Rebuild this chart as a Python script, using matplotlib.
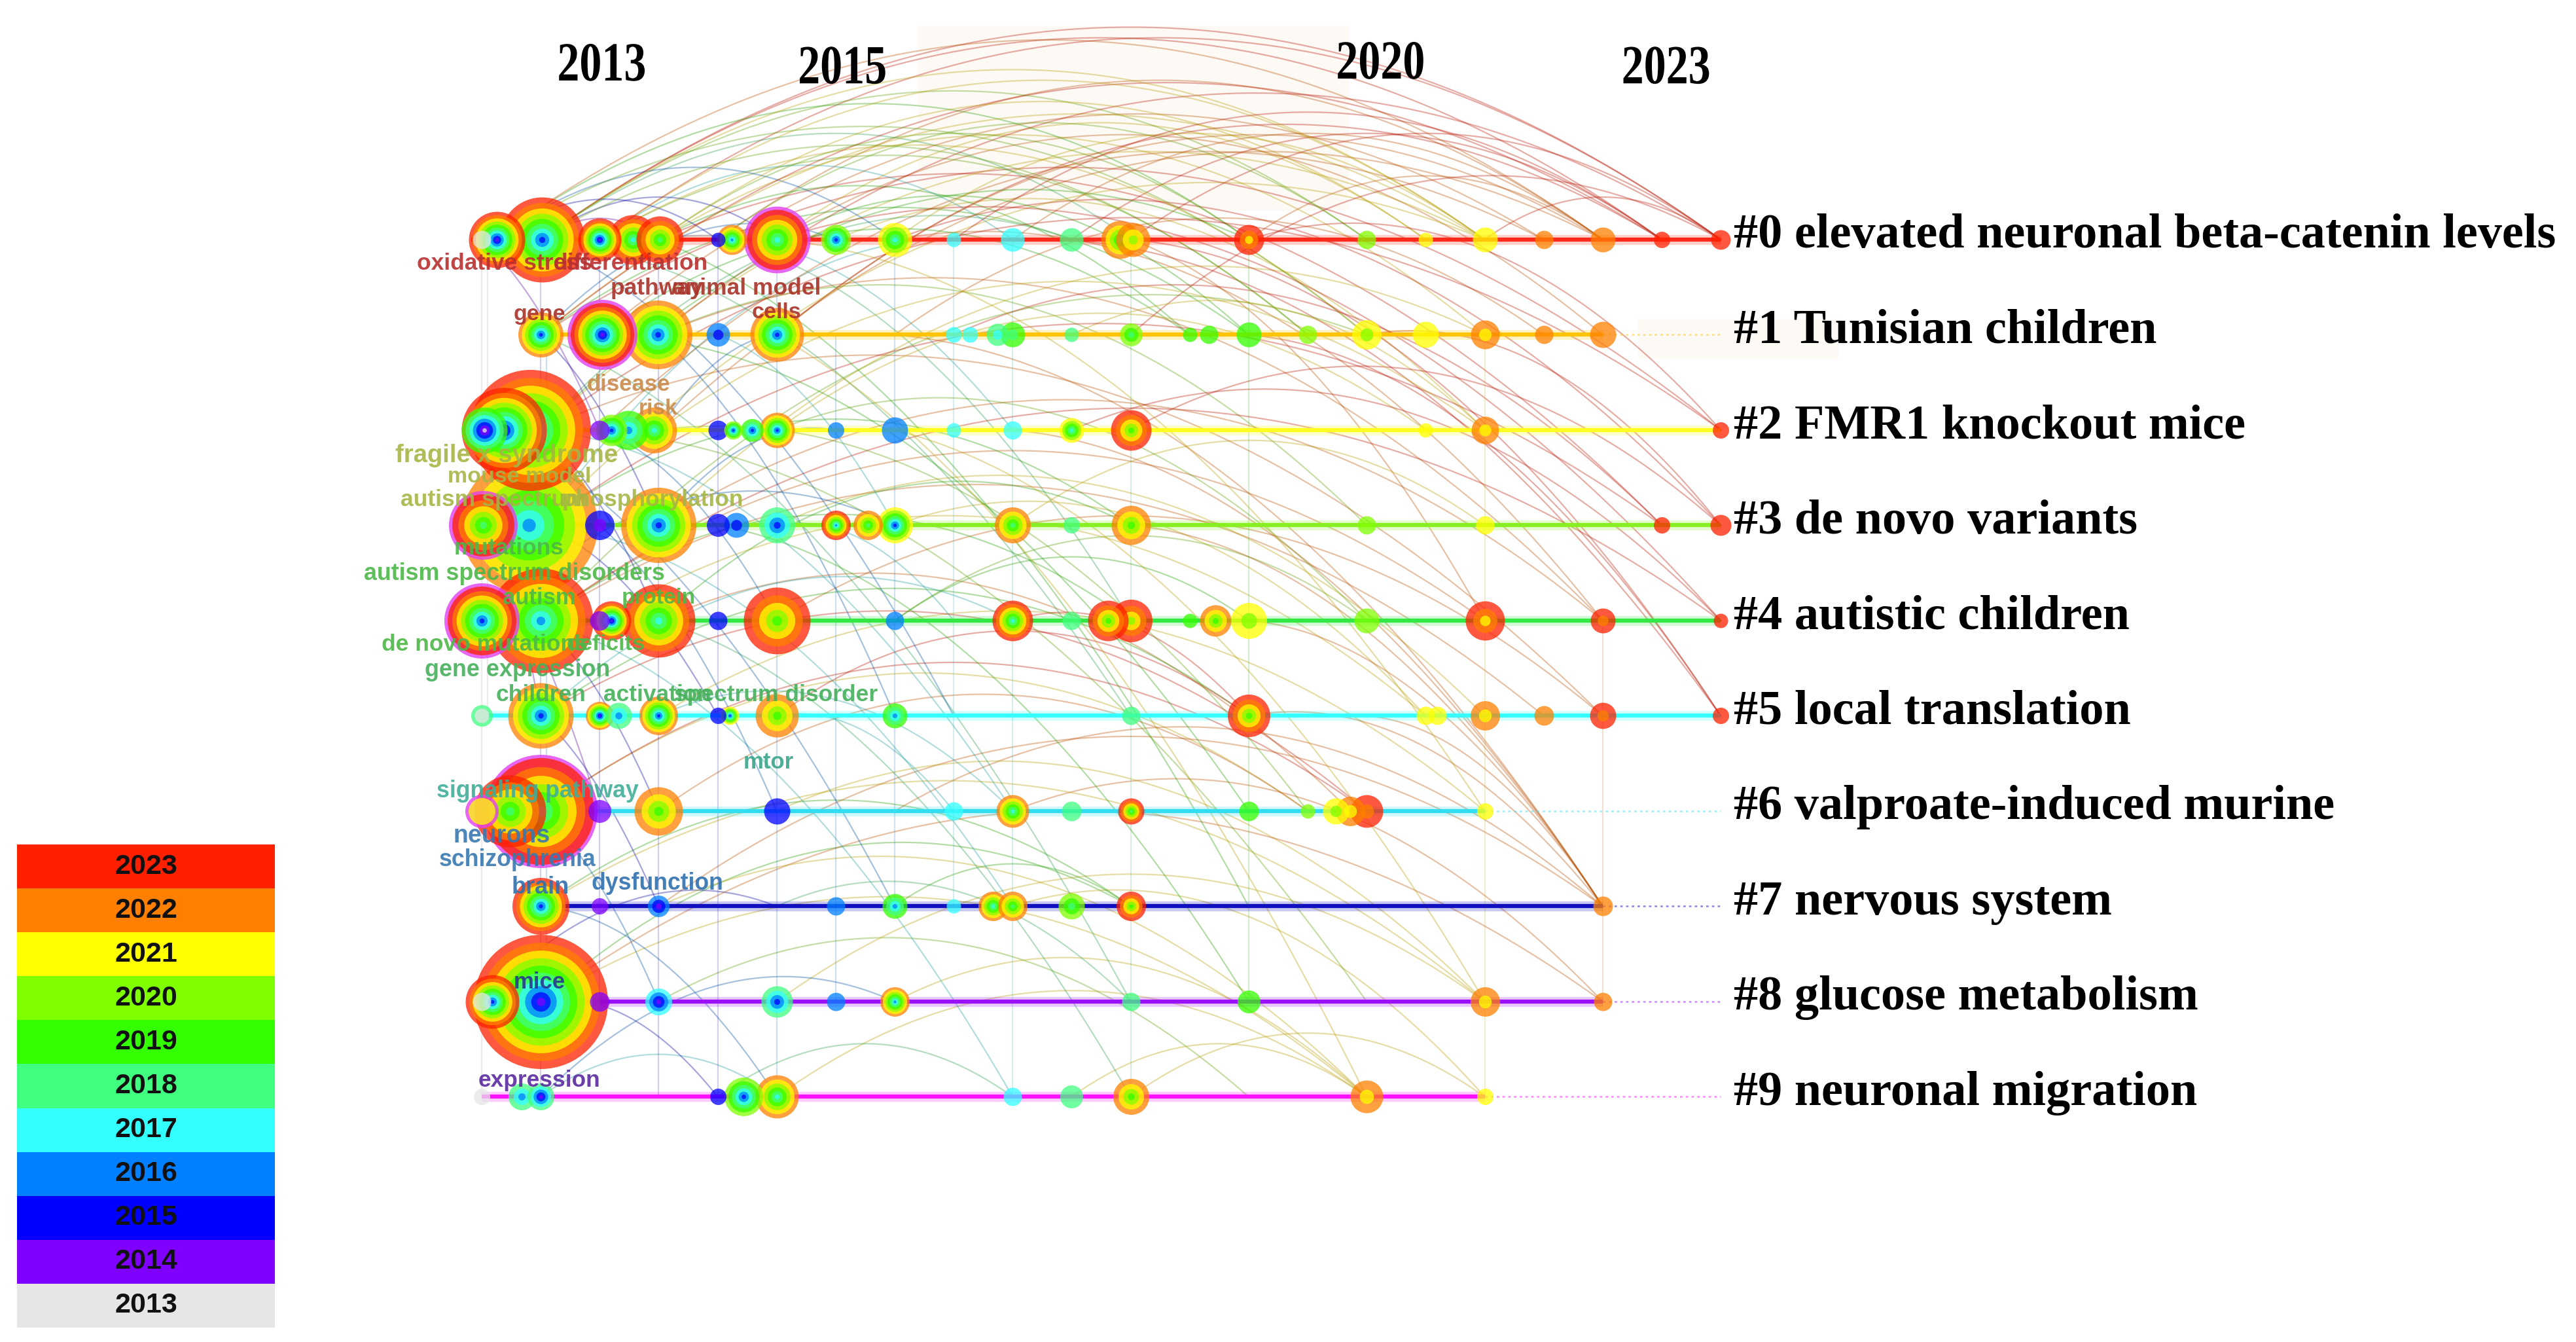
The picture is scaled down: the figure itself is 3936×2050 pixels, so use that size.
import numpy as np
import matplotlib
matplotlib.use("Agg")
import matplotlib.pyplot as plt
import matplotlib.transforms as mtransforms
from matplotlib.textpath import TextPath
from matplotlib.patches import PathPatch, Rectangle
from matplotlib.font_manager import FontProperties

# ── Year palette (CiteSpace time slices) ─────────────
YEARS = list(range(2013, 2024))
YEAR_COLORS = ["#e6e6e6", "#8000ff", "#0000ff", "#0080ff", "#33ffff", "#40ff80",
               "#33ff00", "#80ff00", "#ffff00", "#ff8000", "#ff2000"]

# ── Clusters ─────────────────────────────────────────
CLUSTER_LABELS = ["#0 elevated neuronal beta-catenin levels", "#1 Tunisian children",
                  "#2 FMR1 knockout mice", "#3 de novo variants", "#4 autistic children",
                  "#5 local translation", "#6 valproate-induced murine", "#7 nervous system",
                  "#8 glucose metabolism", "#9 neuronal migration"]
ROW_COLORS = ["#ff2a1a", "#ffc400", "#ffff22", "#88f020", "#33e844",
              "#33ffff", "#33ddf0", "#1010c0", "#9a10ff", "#ff10ff"]
ROW_START = [2012.41, 2013.0, 2012.5, 2012.5, 2012.5, 2012.55, 2012.5, 2013.0, 2012.5, 2012.5]
ROW_END = [2023.0, 2022.0, 2023.0, 2023.0, 2023.0, 2023.0, 2021.0, 2022.0, 2022.0, 2021.0]
TIMELINE_END = 2023.0

YEAR_TICKS = ["2013", "2015", "2020", "2023"]
YEAR_TICK_X = [2013.14, 2015.18, 2019.74, 2022.16]
YEAR_TICK_Y = [-1.67, -1.64, -1.69, -1.64]

# ── Nodes per cluster: (year position, diameter px, first year, last year, centrality ring)
NODES_0 = [(2012.5, 28, 2013, 2013, 0), (2012.63, 86, 2014, 2023, 0), (2013.01, 130, 2015, 2023, 0),
           (2013.5, 66, 2014, 2023, 0), (2013.78, 76, 2017, 2023, 0), (2014.01, 72, 2018, 2023, 0),
           (2014.5, 22, 2015, 2015, 0), (2014.62, 46, 2016, 2022, 0), (2015.0, 92, 2017, 2023, 1),
           (2015.5, 46, 2015, 2020, 0), (2016.0, 52, 2017, 2021, 0), (2016.5, 22, 2017, 2017, 0),
           (2017.0, 36, 2017, 2017, 0), (2017.5, 36, 2018, 2018, 0), (2017.91, 58, 2018, 2022, 0),
           (2018.02, 52, 2020, 2022, 0), (2019.0, 46, 2021, 2023, 0), (2020.0, 28, 2020, 2020, 0),
           (2020.5, 22, 2021, 2021, 0), (2021.0, 38, 2021, 2021, 0), (2021.5, 28, 2022, 2022, 0),
           (2022.0, 38, 2022, 2022, 0), (2022.5, 25, 2023, 2023, 0), (2023.0, 30, 2023, 2023, 0)]
NODES_1 = [(2013.0, 69, 2015, 2022, 0), (2013.52, 97, 2014, 2023, 1), (2013.99, 105, 2015, 2022, 0),
           (2014.5, 36, 2015, 2016, 0), (2015.0, 82, 2015, 2022, 0), (2016.5, 24, 2017, 2017, 0),
           (2016.64, 24, 2017, 2017, 0), (2016.87, 34, 2017, 2018, 0), (2017.0, 38, 2018, 2019, 0),
           (2017.5, 22, 2018, 2018, 0), (2018.0, 35, 2018, 2020, 0), (2018.5, 22, 2019, 2019, 0),
           (2018.66, 28, 2019, 2019, 0), (2019.0, 38, 2019, 2019, 0), (2019.5, 28, 2020, 2020, 0),
           (2020.0, 45, 2020, 2021, 0), (2020.5, 40, 2021, 2021, 0), (2021.0, 44, 2021, 2022, 0),
           (2021.5, 28, 2022, 2022, 0), (2022.0, 40, 2022, 2022, 0)]
NODES_2 = [(2012.91, 185, 2015, 2023, 0), (2012.69, 130, 2014, 2023, 0), (2012.52, 70, 2013, 2019, 0),
           (2013.5, 30, 2014, 2014, 0), (2013.6, 48, 2015, 2020, 0), (2013.74, 60, 2016, 2019, 0),
           (2013.96, 70, 2017, 2022, 0), (2014.5, 30, 2015, 2015, 0), (2014.63, 28, 2015, 2020, 0),
           (2014.79, 35, 2015, 2019, 0), (2015.0, 54, 2015, 2022, 0), (2015.5, 25, 2016, 2016, 0),
           (2016.0, 40, 2016, 2016, 0), (2016.5, 22, 2017, 2017, 0), (2017.0, 28, 2017, 2017, 0),
           (2017.5, 38, 2017, 2021, 0), (2018.0, 62, 2019, 2023, 0), (2020.5, 22, 2021, 2021, 0),
           (2021.0, 42, 2021, 2022, 0), (2023.0, 25, 2023, 2023, 0)]
NODES_3 = [(2012.9, 210, 2016, 2022, 0), (2012.51, 95, 2018, 2023, 1), (2013.5, 45, 2014, 2015, 0),
           (2014.0, 115, 2015, 2022, 0), (2014.5, 35, 2015, 2015, 0), (2014.66, 38, 2015, 2016, 0),
           (2015.0, 55, 2015, 2018, 0), (2015.5, 45, 2016, 2023, 0), (2015.77, 45, 2018, 2022, 0),
           (2016.0, 55, 2015, 2021, 0), (2017.0, 55, 2018, 2022, 0), (2017.5, 25, 2018, 2018, 0),
           (2018.0, 60, 2019, 2022, 0), (2020.0, 28, 2020, 2020, 0), (2021.0, 28, 2021, 2021, 0),
           (2022.5, 25, 2023, 2023, 0), (2023.0, 32, 2023, 2023, 0)]
NODES_4 = [(2013.0, 160, 2016, 2023, 0), (2012.5, 105, 2015, 2023, 1), (2013.5, 30, 2014, 2014, 0),
           (2013.6, 60, 2014, 2023, 0), (2014.0, 112, 2017, 2023, 0), (2014.5, 28, 2015, 2015, 0),
           (2015.0, 102, 2019, 2023, 0), (2016.0, 28, 2016, 2016, 0), (2017.0, 62, 2017, 2023, 0),
           (2017.5, 28, 2018, 2018, 0), (2017.81, 62, 2019, 2023, 0), (2018.0, 65, 2020, 2023, 0),
           (2018.5, 22, 2019, 2019, 0), (2018.72, 48, 2019, 2022, 0), (2019.0, 55, 2020, 2021, 0),
           (2020.0, 38, 2020, 2020, 0), (2021.0, 60, 2021, 2023, 0), (2022.0, 38, 2022, 2023, 0),
           (2023.0, 22, 2023, 2023, 0)]
NODES_5 = [(2012.5, 33, 2018, 2018, 0), (2012.5, 22, 2013, 2013, 0), (2013.0, 100, 2015, 2022, 0),
           (2013.5, 43, 2014, 2022, 0), (2013.66, 40, 2016, 2018, 0), (2014.0, 59, 2015, 2022, 0),
           (2014.5, 25, 2015, 2015, 0), (2014.6, 28, 2015, 2021, 0), (2015.0, 66, 2019, 2022, 0),
           (2016.0, 38, 2016, 2019, 0), (2018.0, 28, 2018, 2018, 0), (2019.0, 65, 2019, 2023, 0),
           (2020.5, 28, 2021, 2021, 0), (2020.6, 28, 2021, 2021, 0), (2021.0, 45, 2021, 2022, 0),
           (2021.5, 30, 2022, 2022, 0), (2022.0, 40, 2022, 2023, 0), (2023.0, 25, 2023, 2023, 0)]
NODES_6 = [(2013.0, 163, 2017, 2023, 1), (2012.74, 110, 2018, 2023, 0), (2012.5, 41, 2021, 2021, 1),
           (2013.5, 35, 2014, 2014, 0), (2014.0, 74, 2019, 2022, 0), (2015.0, 40, 2015, 2015, 0),
           (2016.5, 28, 2017, 2017, 0), (2017.0, 50, 2017, 2022, 0), (2017.5, 30, 2018, 2018, 0),
           (2018.0, 40, 2018, 2023, 0), (2019.0, 30, 2019, 2019, 0), (2019.5, 22, 2020, 2020, 0),
           (2019.74, 40, 2020, 2021, 0), (2019.86, 45, 2021, 2022, 0), (2020.0, 50, 2022, 2023, 0),
           (2021.0, 25, 2021, 2021, 0)]
NODES_7 = [(2013.0, 87, 2015, 2023, 0), (2013.5, 25, 2014, 2014, 0), (2014.0, 33, 2014, 2016, 0),
           (2015.5, 28, 2016, 2016, 0), (2016.0, 38, 2016, 2019, 0), (2016.5, 22, 2017, 2017, 0),
           (2016.83, 45, 2017, 2022, 0), (2017.0, 45, 2018, 2022, 0), (2017.5, 40, 2018, 2020, 0),
           (2018.0, 45, 2019, 2023, 0), (2022.0, 30, 2022, 2022, 0)]
NODES_8 = [(2013.0, 205, 2014, 2023, 0), (2012.59, 82, 2015, 2023, 0), (2012.5, 28, 2013, 2013, 0),
           (2013.5, 30, 2014, 2014, 0), (2014.0, 41, 2014, 2017, 0), (2015.0, 48, 2015, 2018, 0),
           (2015.5, 28, 2016, 2016, 0), (2016.0, 45, 2016, 2022, 0), (2018.0, 28, 2018, 2018, 0),
           (2019.0, 35, 2019, 2019, 0), (2021.0, 45, 2021, 2022, 0), (2022.0, 28, 2022, 2022, 0)]
NODES_9 = [(2012.5, 25, 2013, 2013, 0), (2012.84, 41, 2016, 2018, 0), (2013.0, 41, 2014, 2018, 0),
           (2014.5, 25, 2015, 2015, 0), (2014.72, 59, 2015, 2020, 0), (2015.0, 66, 2017, 2022, 0),
           (2017.0, 28, 2017, 2017, 0), (2017.5, 35, 2018, 2018, 0), (2018.0, 55, 2019, 2022, 0),
           (2020.0, 50, 2021, 2022, 0), (2021.0, 25, 2021, 2021, 0)]
NODES = [NODES_0, NODES_1, NODES_2, NODES_3, NODES_4,
         NODES_5, NODES_6, NODES_7, NODES_8, NODES_9]

# ── Keyword labels: (text, year position, row position, alignment, font size, colour)
KEYWORDS = [
    ("oxidative stress", 2011.95, 0.25, "left", 25.5, "#b83030"),
    ("differentiation", 2013.11, 0.25, "left", 25.5, "#b83030"),
    ("pathway", 2013.59, 0.51, "left", 25.5, "#a83228"),
    ("animal model", 2014.12, 0.51, "left", 25.5, "#a83228"),
    ("gene", 2012.99, 0.79, "center", 24.5, "#a83228"),
    ("cells", 2015.0, 0.77, "center", 24.5, "#a83228"),
    ("disease", 2013.39, 1.52, "left", 25, "#c98a4a"),
    ("risk", 2013.83, 1.78, "left", 24, "#c98a4a"),
    ("fragile x syndrome", 2011.77, 2.27, "left", 27.5, "#a6b545"),
    ("mouse model", 2012.21, 2.49, "left", 24.5, "#a6b545"),
    ("autism spectrum", 2011.81, 2.73, "left", 25.5, "#a6b545"),
    ("phosphorylation", 2013.18, 2.73, "left", 25.5, "#a6b545"),
    ("mutations", 2012.73, 3.24, "center", 25.3, "#4cb848"),
    ("autism spectrum disorders", 2011.50, 3.51, "left", 25.8, "#4cb848"),
    ("autism", 2012.99, 3.76, "center", 25, "#4cb848"),
    ("protein", 2014.0, 3.76, "center", 24, "#4cb848"),
    ("de novo mutations", 2011.65, 4.25, "left", 25.5, "#4cb848"),
    ("deficits", 2013.22, 4.25, "left", 24.7, "#4cb848"),
    ("gene expression", 2012.02, 4.52, "left", 25.8, "#45b05a"),
    ("children", 2013.0, 4.78, "center", 25.5, "#45b05a"),
    ("activation", 2013.53, 4.78, "left", 25.5, "#45b05a"),
    ("spectrum disorder", 2014.13, 4.78, "left", 25.5, "#45b05a"),
    ("mtor", 2014.93, 5.49, "center", 25, "#3aa58a"),
    ("signaling pathway", 2012.12, 5.79, "left", 25.7, "#3fae98"),
    ("neurons", 2012.67, 6.26, "center", 27, "#3878b0"),
    ("schizophrenia", 2012.80, 6.51, "center", 25.7, "#3878b0"),
    ("brain", 2013.0, 6.80, "center", 26, "#3070b0"),
    ("dysfunction", 2013.99, 6.76, "center", 25.7, "#3070b0"),
    ("mice", 2012.99, 7.80, "center", 25, "#283890"),
    ("expression", 2012.99, 8.83, "center", 25.4, "#5a2aa0"),
]

# ── Co-occurrence links: (x1, row1, x2, row2, link year)
LINKS = [
    (2013.0, 0, 2023.0, 0, 2023), (2013.5, 0, 2023.0, 0, 2023), (2013.0, 0, 2022.5, 0, 2023),
    (2014.0, 0, 2022.5, 3, 2023), (2013.0, 1, 2023.0, 2, 2023), (2014.5, 0, 2022.0, 0, 2022),
    (2015.0, 0, 2022.0, 1, 2022), (2013.5, 1, 2021.5, 0, 2022), (2013.0, 2, 2021.0, 0, 2021),
    (2014.0, 0, 2021.0, 1, 2021), (2015.0, 0, 2020.5, 0, 2021), (2016.0, 0, 2023.0, 3, 2023),
    (2016.0, 0, 2022.0, 4, 2022), (2015.5, 0, 2021.0, 2, 2021), (2017.0, 0, 2023.0, 5, 2023),
    (2017.5, 0, 2022.5, 0, 2023), (2018.0, 0, 2023.0, 0, 2023), (2019.0, 0, 2022.0, 0, 2022),
    (2018.0, 0, 2021.0, 4, 2022), (2013.0, 0, 2020.0, 0, 2020), (2013.5, 0, 2019.5, 1, 2020),
    (2014.0, 1, 2020.0, 3, 2020), (2012.6, 0, 2019.0, 0, 2019), (2013.0, 1, 2019.0, 1, 2019),
    (2014.0, 0, 2018.5, 1, 2019), (2013.0, 0, 2018.0, 0, 2018), (2014.5, 0, 2018.0, 4, 2018),
    (2013.0, 2, 2017.5, 0, 2018), (2013.5, 0, 2017.0, 0, 2017), (2014.0, 0, 2017.0, 2, 2017),
    (2013.0, 3, 2016.5, 0, 2017), (2012.6, 0, 2016.0, 0, 2016), (2013.0, 1, 2015.5, 0, 2016),
    (2013.0, 0, 2015.0, 0, 2015), (2012.6, 0, 2014.5, 0, 2015), (2013.0, 0, 2014.0, 0, 2014),
    (2012.6, 0, 2022.0, 0, 2022), (2013.5, 0, 2020.0, 1, 2021), (2014.0, 0, 2019.0, 0, 2020),
    (2013.0, 1, 2021.0, 0, 2021), (2015.0, 1, 2022.5, 0, 2023), (2016.0, 1, 2021.5, 1, 2022),
    (2013.0, 1, 2022.5, 0, 2023), (2014.0, 1, 2023.0, 0, 2023), (2015.0, 1, 2022.0, 0, 2022),
    (2013.5, 2, 2021.5, 0, 2022), (2014.0, 2, 2022.0, 0, 2022), (2013.0, 0, 2021.0, 0, 2021),
    (2013.5, 0, 2021.0, 0, 2021), (2014.0, 0, 2020.5, 0, 2021), (2013.0, 3, 2021.0, 0, 2021),
    (2013.0, 0, 2019.5, 1, 2020), (2014.5, 0, 2020.0, 0, 2020), (2012.6, 0, 2020.0, 1, 2020),
    (2013.0, 2, 2019.0, 0, 2019), (2015.0, 0, 2019.0, 1, 2019), (2013.5, 1, 2018.5, 1, 2019),
    (2013.0, 4, 2020.0, 1, 2020), (2014.0, 3, 2021.0, 1, 2021), (2016.0, 0, 2021.0, 0, 2021),
    (2017.0, 0, 2022.0, 0, 2022), (2016.5, 0, 2022.5, 0, 2023), (2018.0, 1, 2023.0, 0, 2023),
    (2019.0, 0, 2023.0, 2, 2023), (2020.0, 1, 2023.0, 3, 2023), (2021.0, 0, 2023.0, 0, 2023),
    (2015.0, 0, 2023.0, 4, 2023), (2014.0, 1, 2022.0, 4, 2022), (2013.0, 2, 2022.0, 5, 2022),
    (2013.0, 4, 2021.5, 5, 2022), (2015.0, 3, 2021.0, 5, 2021), (2016.0, 3, 2020.5, 5, 2021),
    (2014.0, 5, 2021.0, 6, 2021), (2013.0, 5, 2020.0, 6, 2023), (2014.0, 4, 2019.86, 6, 2022),
    (2015.0, 2, 2020.5, 2, 2021), (2017.0, 3, 2021.0, 3, 2021), (2016.0, 4, 2020.0, 4, 2020),
    (2017.5, 1, 2021.0, 2, 2021), (2018.0, 2, 2023.0, 3, 2023),
    (2013.0, 2, 2023.0, 2, 2023), (2013.0, 3, 2022.5, 3, 2023), (2013.0, 4, 2023.0, 4, 2023),
    (2014.0, 3, 2022.0, 4, 2022), (2013.0, 4, 2021.0, 4, 2022), (2015.0, 4, 2022.0, 5, 2022),
    (2014.0, 2, 2021.0, 2, 2021), (2013.5, 4, 2020.5, 5, 2021), (2015.0, 2, 2020.0, 4, 2020),
    (2013.0, 5, 2019.0, 5, 2019), (2016.0, 4, 2019.0, 4, 2019), (2013.0, 6, 2019.5, 6, 2021),
    (2014.0, 6, 2019.5, 6, 2022), (2013.0, 6, 2020.0, 6, 2023), (2015.0, 5, 2019.0, 5, 2023),
    (2017.0, 4, 2019.0, 5, 2023), (2013.0, 4, 2018.0, 4, 2019), (2014.0, 4, 2018.0, 3, 2019),
    (2013.0, 3, 2018.0, 3, 2019), (2013.0, 5, 2017.0, 4, 2017), (2014.0, 5, 2017.0, 6, 2017),
    (2012.5, 4, 2016.0, 3, 2016), (2013.0, 7, 2018.0, 7, 2019), (2013.0, 8, 2018.0, 7, 2019),
    (2014.0, 8, 2019.0, 9, 2020), (2013.0, 8, 2020.0, 9, 2021), (2015.0, 9, 2020.0, 9, 2021),
    (2015.0, 8, 2021.0, 8, 2021), (2014.0, 7, 2022.0, 7, 2022), (2016.0, 6, 2022.0, 7, 2022),
    (2015.0, 6, 2021.0, 8, 2021), (2017.0, 6, 2022.0, 8, 2022), (2013.0, 9, 2016.0, 8, 2016),
    (2012.5, 8, 2015.0, 7, 2015), (2014.5, 9, 2017.0, 9, 2018), (2017.5, 9, 2020.0, 9, 2021),
    (2013.0, 7, 2021.0, 8, 2021), (2013.0, 8, 2022.0, 8, 2022), (2014.0, 7, 2020.0, 9, 2021),
    (2016.0, 8, 2020.0, 9, 2021), (2017.0, 7, 2021.0, 9, 2021), (2018.0, 9, 2021.0, 9, 2021),
    (2016.0, 7, 2018.0, 7, 2019), (2013.0, 9, 2015.0, 9, 2017), (2015.0, 7, 2018.0, 8, 2018),
    (2019.0, 5, 2022.0, 7, 2022), (2018.0, 3, 2022.0, 7, 2022), (2017.0, 2, 2022.0, 7, 2022),
    (2019.0, 4, 2022.0, 7, 2022), (2016.0, 1, 2022.0, 7, 2022), (2020.0, 5, 2022.0, 7, 2022),
    (2018.0, 0, 2023.0, 5, 2023), (2019.0, 1, 2023.0, 5, 2023), (2017.5, 2, 2023.0, 4, 2023),
    (2016.5, 1, 2022.5, 3, 2023), (2013.0, 0, 2018.0, 5, 2018), (2013.5, 1, 2019.0, 6, 2019),
    (2014.0, 2, 2019.5, 6, 2020), (2014.0, 0, 2019.0, 7, 2019), (2013.0, 2, 2020.0, 8, 2020),
    (2015.0, 1, 2020.0, 9, 2021), (2013.0, 1, 2018.0, 8, 2018), (2014.5, 3, 2019.0, 8, 2019),
    (2015.0, 0, 2021.0, 6, 2021), (2016.0, 2, 2021.0, 8, 2021), (2013.0, 3, 2017.0, 7, 2017),
    (2013.0, 4, 2017.0, 9, 2017), (2014.0, 4, 2018.0, 9, 2018), (2012.6, 2, 2016.0, 7, 2016),
    (2013.0, 0, 2016.5, 5, 2016), (2013.0, 2, 2017.0, 6, 2017), (2014.0, 1, 2016.0, 5, 2016),
    (2012.5, 0, 2013.5, 2, 2014), (2013.0, 1, 2014.0, 3, 2015), (2013.0, 2, 2014.0, 4, 2015),
    (2013.0, 3, 2014.5, 5, 2015), (2013.0, 4, 2014.0, 6, 2015), (2013.0, 5, 2014.0, 7, 2015),
    (2013.0, 6, 2014.0, 8, 2016), (2013.0, 7, 2015.0, 9, 2016), (2012.5, 2, 2013.0, 5, 2014),
    (2012.5, 3, 2013.5, 6, 2014), (2013.5, 2, 2015.0, 4, 2016), (2014.0, 2, 2015.0, 1, 2016),
    (2014.0, 3, 2015.5, 2, 2016), (2014.5, 1, 2016.0, 3, 2017), (2015.0, 3, 2016.5, 4, 2017),
    (2015.0, 5, 2016.5, 6, 2017), (2013.5, 3, 2015.0, 6, 2016), (2013.0, 8, 2014.5, 9, 2015),
    (2012.5, 0, 2012.5, 9, 2013), (2012.55, 0, 2012.55, 5, 2013), (2013.0, 0, 2013.0, 9, 2015),
    (2013.05, 1, 2013.05, 8, 2016), (2013.5, 0, 2013.5, 8, 2015), (2014.0, 0, 2014.0, 9, 2015),
    (2014.5, 0, 2014.5, 9, 2015), (2015.0, 0, 2015.0, 9, 2016), (2015.5, 1, 2015.5, 8, 2016),
    (2016.0, 0, 2016.0, 7, 2016), (2016.5, 0, 2016.5, 7, 2017), (2017.0, 0, 2017.0, 9, 2017),
    (2018.0, 0, 2018.0, 9, 2018), (2019.0, 0, 2019.0, 8, 2019), (2021.0, 1, 2021.0, 9, 2021),
    (2022.0, 4, 2022.0, 8, 2022),
]


def year_color(y):
    return YEAR_COLORS[y - YEARS[0]]


def link_color(y):
    r, g, b = matplotlib.colors.to_rgb(year_color(y))
    return (r * 0.72, g * 0.62, b * 0.62)


fig = plt.figure(figsize=(39.37, 20.5), dpi=100)
fig.patch.set_facecolor("white")
ax = fig.add_axes([0, 0, 1, 1])
ax.set_axis_off()

# faint background bands left over from the original export
ax.add_patch(Rectangle((2016.2, -2.25), 3.65, 1.95, color="#fdfaf6", lw=0, zorder=0))
ax.add_patch(Rectangle((2022.3, 0.83), 1.7, 0.42, color="#fdfaf6", lw=0, zorder=0))

# links
t = np.linspace(0, 1, 80)
for x1, r1, x2, r2, yr in LINKS:
    h = 0.223 * abs(x2 - x1)
    xs = x1 + (x2 - x1) * t
    ys = r1 + (r2 - r1) * t - 4 * h * t * (1 - t)
    a = 0.35 if x1 != x2 else 0.18
    ax.plot(xs, ys, color=link_color(yr), lw=1.6, alpha=a, zorder=1)

# timelines
for i in range(len(CLUSTER_LABELS)):
    c = ROW_COLORS[i]
    ax.plot([ROW_START[i], ROW_END[i]], [i, i], color=c, lw=11, alpha=0.22,
            solid_capstyle="butt", zorder=2)
    ax.plot([ROW_START[i], ROW_END[i]], [i, i], color=c, lw=4.5,
            solid_capstyle="butt", zorder=2.1)
    if ROW_END[i] < TIMELINE_END:
        ax.plot([ROW_END[i], TIMELINE_END], [i, i], color=c, lw=1.8, alpha=0.5,
                ls=(0, (1.5, 2.0)), zorder=2)
    ax.text(2023.11, i + 0.085, CLUSTER_LABELS[i], fontsize=53.5, fontweight="bold",
            family="Liberation Serif", color="black", ha="left", va="baseline", zorder=60)

# nodes (tree rings), biggest first so the small ones stay visible
all_nodes = []
for row, nodes in enumerate(NODES):
    for x, d, first, last, ring in nodes:
        all_nodes.append((d, x, row, first, last, ring))
all_nodes.sort(key=lambda n: -n[0])
z = 3.0
for d, x, row, first, last, ring in all_nodes:
    if ring:
        ax.scatter([x], [row], s=((d + 10) * 0.72) ** 2, color="#e040f0", alpha=0.8,
                   linewidths=0, zorder=z)
        z += 0.001
    span = list(range(last, first - 1, -1))
    n = len(span)
    for k, yr in enumerate(span):
        dk = d * ((n - k) / n) ** 1.2
        ax.scatter([x], [row], s=(dk * 0.72) ** 2, color=year_color(yr), alpha=0.75,
                   linewidths=0, zorder=z)
        z += 0.001

# keyword labels
for text, x, y, ha, size, color in KEYWORDS:
    ax.text(x, y, text, fontsize=size, fontweight="bold", family="Liberation Sans",
            color=color, alpha=0.9, ha=ha, va="center", zorder=50)

# year labels (tall condensed serif digits)
fp = FontProperties(family="Liberation Serif", weight="bold")
for lab, x, y in zip(YEAR_TICKS, YEAR_TICK_X, YEAR_TICK_Y):
    tp = TextPath((0, 0), lab, size=68, prop=fp)
    tr = mtransforms.Affine2D().scale(1.0, 1.24) + mtransforms.ScaledTranslation(x, y, ax.transData)
    ax.add_patch(PathPatch(tp, transform=tr, facecolor="black", lw=0, zorder=60))

ax.set_xlim(2008.418, 2030.254)
ax.set_ylim(11.574, -2.515)

# year colour legend
lg = fig.add_axes([26 / 3937, 1 - 2028 / 2050, 394 / 3937, 738 / 2050])
lg.barh(range(len(YEARS)), [1] * len(YEARS), height=1.0, left=0, color=YEAR_COLORS, lw=0)
for i, yr in enumerate(YEARS):
    lg.text(0.5, i, str(yr), ha="center", va="center", fontsize=31, fontweight="bold",
            family="Liberation Sans", color="#111111")
lg.set_xlim(0, 1)
lg.set_ylim(-0.5, len(YEARS) - 0.5)
lg.set_axis_off()

fig.savefig("out.png", dpi=100, facecolor="white")
